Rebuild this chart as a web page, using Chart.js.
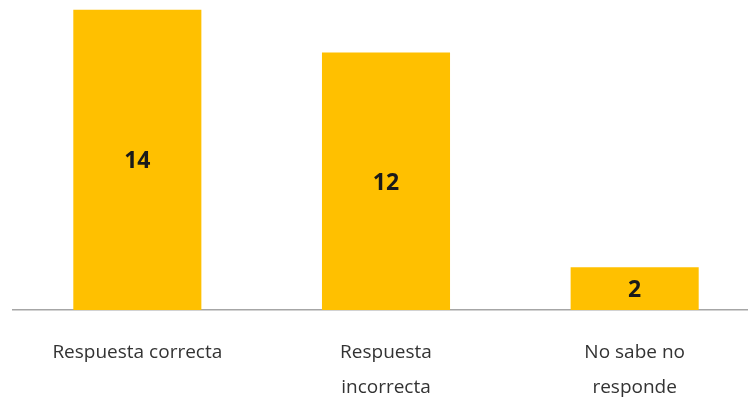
<!DOCTYPE html>
<html><head><meta charset="utf-8">
<script src="https://cdn.jsdelivr.net/npm/chart.js@4/dist/chart.umd.min.js"></script>
<style>html,body{margin:0;padding:0;background:#fff;overflow:hidden}#wrap{width:760px;height:402px}</style>
</head><body><div id="wrap"><canvas id="c"></canvas></div>
<script>
const categories = [["Respuesta correcta"], ["Respuesta", "incorrecta"], ["No sabe no", "responde"]];
const values = [14, 12, 2];

const centerLabels = {
  id: 'centerLabels',
  afterDatasetsDraw(chart) {
    const ctx = chart.ctx;
    const meta = chart.getDatasetMeta(0);
    ctx.save();
    ctx.font = 'bold 23px "Open Sans"';
    ctx.fillStyle = '#1a1a1a';
    ctx.textAlign = 'center';
    ctx.textBaseline = 'middle';
    meta.data.forEach((bar, i) => {
      ctx.fillText(String(values[i]), bar.x, (bar.y + bar.base) / 2 + 2);
    });
    ctx.restore();
  }
};

new Chart(document.getElementById('c'), {
  type: 'bar',
  data: { labels: categories, datasets: [{ data: values, backgroundColor: '#FFC000', categoryPercentage: 0.515, barPercentage: 1 }] },
  options: {
    responsive: true, maintainAspectRatio: false, animation: false,
    layout: { padding: { left: 13, right: 1, top: 0, bottom: -28 } },
    plugins: { legend: { display: false }, tooltip: { enabled: false } },
    scales: {
      y: { display: false, min: 0, max: 14.45 },
      x: {
        grid: { display: false, drawTicks: false },
        border: { display: true, color: '#a6a6a6', width: 1.5 },
        ticks: { color: '#333333', font: { family: '"Open Sans"', size: 19, lineHeight: 1.84 }, padding: 25, maxRotation: 0, autoSkip: false }
      }
    }
  },
  plugins: [centerLabels]
});
</script></body></html>
